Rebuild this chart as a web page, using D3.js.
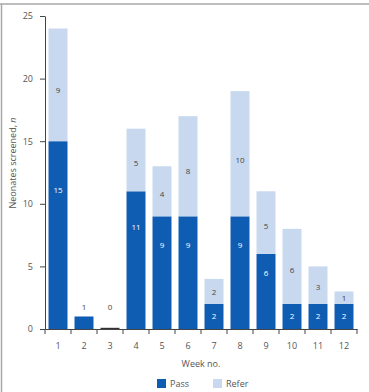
<!DOCTYPE html>
<html>
<head>
<meta charset="utf-8">
<script src="https://cdn.jsdelivr.net/npm/d3@7"></script>
<style>
  body { margin: 0; background: #fff; }
  svg { display: block; font-family: "Open Sans", sans-serif; }
</style>
</head>
<body>
<svg width="369" height="392"></svg>
<script>
const weeks = ['1', '2', '3', '4', '5', '6', '7', '8', '9', '10', '11', '12'];
const pass = [15, 1, 0, 11, 9, 9, 2, 9, 6, 2, 2, 2];
const refer = [9, 0, 0, 5, 4, 8, 2, 10, 5, 6, 3, 1];
const yTicks = [0, 5, 10, 15, 20, 25];
const seriesNames = ['Pass', 'Refer'];

const passColor = '#0f5db3';
const referColor = '#c8d9ef';
const axisColor = '#444';
const textColor = '#555';
const textSize = '9px';

const svg = d3.select('svg');
const width = +svg.attr('width');
const height = +svg.attr('height');

// frame (top and left edges only)
svg.append('line').attr('x1', 0).attr('x2', width).attr('y1', 4).attr('y2', 4)
  .attr('stroke', '#a8a8a8').attr('stroke-width', 1.5);
svg.append('line').attr('x1', 1.5).attr('x2', 1.5).attr('y1', 4).attr('y2', height)
  .attr('stroke', '#a8a8a8').attr('stroke-width', 1.5);

const margin = { left: 45, right: 12, top: 16, bottom: 63 };
const innerWidth = width - margin.left - margin.right;
const innerHeight = height - margin.top - margin.bottom;

const data = weeks.map((w, i) => ({ week: w, pass: pass[i], refer: refer[i], total: pass[i] + refer[i] }));

const x = d3.scaleBand().domain(weeks).range([0, innerWidth]).paddingInner(0.27).paddingOuter(0.135);
const y = d3.scaleLinear().domain([0, 25]).range([innerHeight, 0]);

const g = svg.append('g').attr('transform', `translate(${margin.left},${margin.top})`);

// bars
const bars = g.append('g');
bars.selectAll('.pass').data(data).enter().append('rect')
  .attr('class', 'pass')
  .attr('x', d => x(d.week))
  .attr('width', x.bandwidth())
  .attr('y', d => y(d.pass))
  .attr('height', d => y(0) - y(d.pass))
  .attr('fill', passColor);
bars.selectAll('.refer').data(data).enter().append('rect')
  .attr('class', 'refer')
  .attr('x', d => x(d.week))
  .attr('width', x.bandwidth())
  .attr('y', d => y(d.total))
  .attr('height', d => y(d.pass) - y(d.total))
  .attr('fill', referColor);
// empty week: thin mark on the baseline
bars.selectAll('.empty').data(data.filter(d => d.total === 0)).enter().append('rect')
  .attr('class', 'empty')
  .attr('x', d => x(d.week))
  .attr('width', x.bandwidth())
  .attr('y', y(0) - 1.2)
  .attr('height', 1.2)
  .attr('fill', '#333');

const labelSize = '8px';
const cx = d => x(d.week) + x.bandwidth() / 2;
const labels = g.append('g')
  .attr('text-anchor', 'middle')
  .attr('font-size', labelSize);

// pass labels inside bars
labels.selectAll('.pass-label').data(data.filter(d => d.pass > 1)).enter().append('text')
  .attr('class', 'pass-label')
  .attr('x', cx)
  .attr('y', d => y(d.pass > 3 ? d.pass * 0.74 : d.pass / 2))
  .attr('dy', '0.35em')
  .attr('fill', '#fff')
  .text(d => d.pass);

// refer labels inside bars
labels.selectAll('.refer-label').data(data.filter(d => d.refer > 0)).enter().append('text')
  .attr('class', 'refer-label')
  .attr('x', cx)
  .attr('y', d => y(d.pass + d.refer * 0.45))
  .attr('dy', '0.35em')
  .attr('fill', '#444')
  .text(d => d.refer);

// tiny bars: label above
labels.selectAll('.top-label').data(data.filter(d => d.total <= 1)).enter().append('text')
  .attr('class', 'top-label')
  .attr('x', cx)
  .attr('y', y(1) - 9)
  .attr('dy', '0.35em')
  .attr('fill', '#444')
  .text(d => d.total);

// y axis
const yAxis = g.append('g')
  .call(d3.axisLeft(y).tickValues(yTicks).tickSize(5).tickPadding(7).tickSizeOuter(0));
yAxis.select('.domain').attr('stroke', axisColor);
yAxis.selectAll('.tick line').attr('stroke', axisColor);
yAxis.selectAll('.tick text').attr('font-size', textSize).attr('fill', textColor).attr('font-family', '"Open Sans", sans-serif');

// x axis
const xAxis = g.append('g').attr('transform', `translate(0,${innerHeight})`)
  .call(d3.axisBottom(x).tickSize(0).tickPadding(14).tickSizeOuter(0));
xAxis.select('.domain').attr('stroke', axisColor);
xAxis.selectAll('.tick text').attr('font-size', textSize).attr('fill', textColor).attr('font-family', '"Open Sans", sans-serif');
// ticks at band boundaries
const bounds = d3.range(weeks.length + 1).map(i => x.range()[0] + i * x.step());
xAxis.selectAll('.bound').data(bounds).enter().append('line')
  .attr('class', 'bound')
  .attr('x1', d => d).attr('x2', d => d)
  .attr('y1', 0).attr('y2', 5)
  .attr('stroke', axisColor);

// axis titles
svg.append('text')
  .attr('x', margin.left + innerWidth / 2)
  .attr('y', 364)
  .attr('dy', '0.35em')
  .attr('text-anchor', 'middle')
  .attr('font-size', textSize)
  .attr('fill', textColor)
  .text('Week no.');

const yTitle = svg.append('text')
  .attr('transform', 'translate(13,163) rotate(-90)')
  .attr('dy', '0.35em')
  .attr('text-anchor', 'middle')
  .attr('font-size', textSize)
  .attr('fill', textColor);
yTitle.append('tspan').text('Neonates screened, ');
yTitle.append('tspan').attr('font-style', 'italic').text('n');

// legend
const legendX = [157, 213];
const legendColors = [passColor, referColor];
const legend = svg.selectAll('.legend').data(seriesNames).enter().append('g')
  .attr('class', 'legend')
  .attr('transform', (d, i) => `translate(${legendX[i]},379)`);
legend.append('rect').attr('width', 9).attr('height', 9).attr('fill', (d, i) => legendColors[i]);
legend.append('text')
  .attr('x', 13).attr('y', 4.5).attr('dy', '0.35em')
  .attr('font-size', textSize).attr('fill', textColor)
  .text(d => d);
</script>
</body>
</html>
